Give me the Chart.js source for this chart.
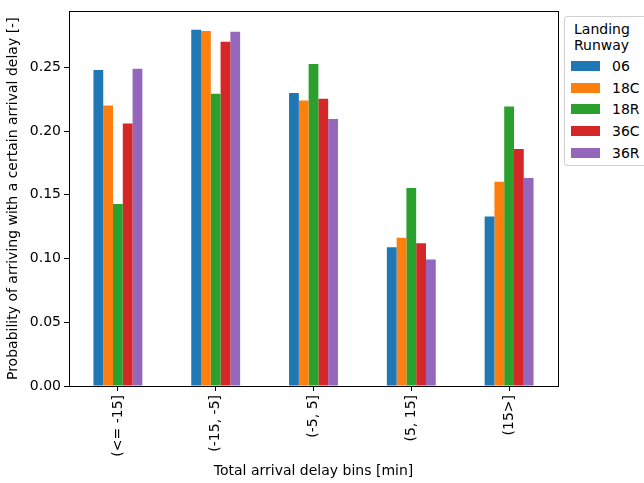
<!DOCTYPE html>
<html>
<head>
<meta charset="utf-8">
<script src="https://cdn.jsdelivr.net/npm/chart.js@4"></script>
<style>
  body { margin: 0; background: #fff; }
  #wrap { position: relative; width: 644px; height: 483px; }
  #legend {
    position: absolute; left: 564px; top: 16px; width: 90px; height: 148px;
    border: 1px solid #d0d0d0; border-radius: 3px; background: #fff;
    font-family: "DejaVu Sans", sans-serif; font-size: 14px; color: #000;
  }
  #legend .title { text-align: left; line-height: 16px; margin: 4px 0 0 9px; }
  #legend .item { position: absolute; left: 6px; height: 16px; line-height: 16px; }
  #legend .sw { position: absolute; left: 0; top: 3px; width: 29px; height: 10px; }
  #legend .lbl { position: absolute; left: 41px; top: 0; }
</style>
</head>
<body>
<div id="wrap">
  <canvas id="chart" width="644" height="483"></canvas>
  <div id="legend"></div>
</div>
<script>
// Delay bins and landing runway values
const bins = ['(<= -15]', '(-15, -5]', '(-5, 5]', '(5, 15]', '(15>]'];
const runways = ['06', '18C', '18R', '36C', '36R'];
const colors = ['#1f77b4', '#ff7f0e', '#2ca02c', '#d62728', '#9467bd'];

const rw06 = [0.248, 0.2796, 0.2298, 0.1088, 0.1329];
const rw18C = [0.220, 0.2786, 0.224, 0.1163, 0.1602];
const rw18R = [0.1428, 0.2293, 0.2527, 0.1553, 0.2192];
const rw36C = [0.206, 0.270, 0.2254, 0.1119, 0.1859];
const rw36R = [0.249, 0.278, 0.2095, 0.0992, 0.1631];
const values = [rw06, rw18C, rw18R, rw36C, rw36R];

const yTicks = [0, 0.05, 0.10, 0.15, 0.20, 0.25];
const font = { family: 'DejaVu Sans', size: 14 };

// Frame around plot area like matplotlib
const framePlugin = {
    id: 'frame',
    afterDraw(chart) {
        const a = chart.chartArea;
        const ctx = chart.ctx;
        ctx.save();
        ctx.strokeStyle = '#000';
        ctx.lineWidth = 1;
        ctx.strokeRect(Math.round(a.left) + 0.5, Math.round(a.top) + 0.5,
            Math.round(a.right - a.left), Math.round(a.bottom - a.top));
        ctx.restore();
    }
};

const ctx = document.getElementById('chart').getContext('2d');
new Chart(ctx, {
    type: 'bar',
    data: {
        labels: bins,
        datasets: runways.map((r, i) => ({
            label: r,
            data: values[i],
            backgroundColor: colors[i],
            borderWidth: 0,
            categoryPercentage: 0.5,
            barPercentage: 1.0
        }))
    },
    options: {
        responsive: false,
        animation: false,
        layout: { padding: { top: 8, right: 86, left: 0, bottom: 0 } },
        plugins: { legend: { display: false }, tooltip: { enabled: false } },
        scales: {
            x: {
                grid: { offset: false, drawOnChartArea: false, drawTicks: true, tickLength: 5, color: '#000' },
                border: { display: true, color: '#000' },
                ticks: { color: '#000', font: font, maxRotation: 90, minRotation: 90, padding: 4 },
                title: { display: true, text: 'Total arrival delay bins [min]', color: '#000', font: font, padding: { top: 6, bottom: 3 } },
                afterFit(scale) { scale.height = 97; }
            },
            y: {
                min: 0,
                max: 0.2939,
                grid: { drawOnChartArea: false, drawTicks: true, tickLength: 5, color: '#000' },
                border: { display: true, color: '#000' },
                ticks: { color: '#000', font: font, padding: 3, callback: v => v.toFixed(2) },
                afterBuildTicks(scale) { scale.ticks = yTicks.map(v => ({ value: v })); },
                title: { display: true, text: 'Probability of arriving with a certain arrival delay [-]', color: '#000', font: font, padding: { top: 5, bottom: 2 } },
                afterFit(scale) { scale.width = 69; }
            }
        }
    },
    plugins: [framePlugin]
});

// HTML legend
const legend = document.getElementById('legend');
legend.innerHTML = '<div class="title">Landing<br>Runway</div>';
runways.forEach((r, i) => {
    const item = document.createElement('div');
    item.className = 'item';
    item.style.top = (41 + i * 21.7) + 'px';
    item.innerHTML = `<span class="sw" style="background:${colors[i]}"></span><span class="lbl">${r}</span>`;
    legend.appendChild(item);
});
</script>
</body>
</html>
